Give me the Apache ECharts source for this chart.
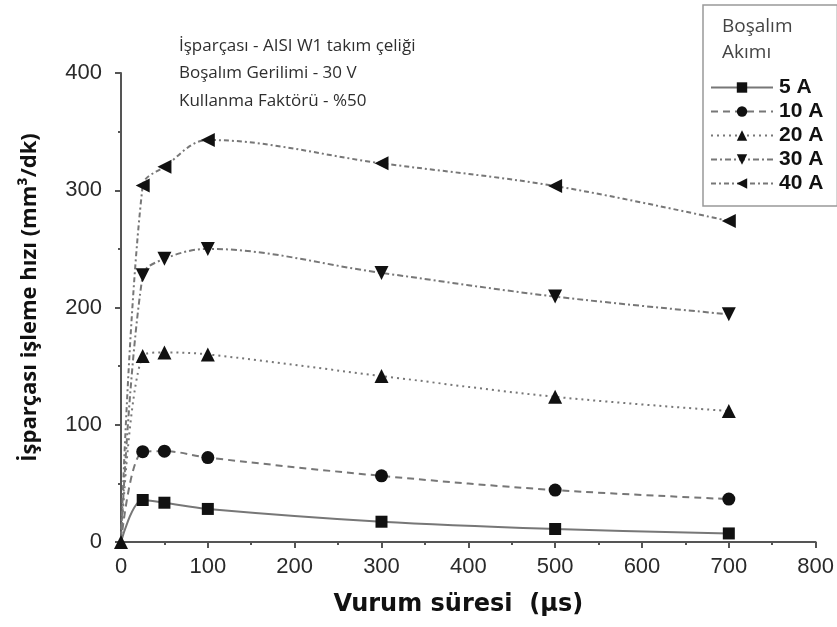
<!DOCTYPE html>
<html><head><meta charset="utf-8">
<script src="https://cdn.jsdelivr.net/npm/echarts@6/dist/echarts.min.js"></script>
<style>html,body{margin:0;padding:0;background:#fff}#c{width:837px;height:627px}</style>
</head><body><div id="c"></div>
<script>
const pulseTimes = [0, 25, 50, 100, 300, 500, 700];
const seriesNames = ['5 A', '10 A', '20 A', '30 A', '40 A'];
const s5A = [0, 35.8, 33.5, 28.2, 17.3, 11.1, 7.3];
const s10A = [0, 77, 77.5, 72, 56.4, 44.3, 36.6];
const s20A = [0, 158.6, 161.7, 160, 141.6, 123.8, 111.7];
const s30A = [0, 227.4, 241.5, 250, 229.5, 209.3, 194.2];
const s40A = [0, 304, 320, 342.9, 323, 303.6, 273.8];
const xTicks = [0, 100, 200, 300, 400, 500, 600, 700, 800];
const yTicks = [0, 100, 200, 300, 400];
const notes = ['İşparçası - AISI W1 takım çeliği', 'Boşalım Gerilimi - 30 V', 'Kullanma Faktörü - %50'];

const values = [s5A, s10A, s20A, s30A, s40A];
const symbols = ['rect', 'circle', 'triangle', 'triangle', 'triangle'];
const rotates = [0, 0, 0, 180, 90];
const sizes = [12, 13, 14, 14, 14];
const dashes = ['solid', [7, 5], [2, 4], [6, 3, 2, 3], [5, 3, 2, 3]];

const chart = echarts.init(document.getElementById('c'));
const axisCol = '#555';
chart.setOption({
  animation: false,
  backgroundColor: '#fff',
  grid: { left: 121, right: 21, top: 73, bottom: 85 },
  xAxis: {
    type: 'value', min: 0, max: 800, interval: 100,
    axisLine: { show: true, lineStyle: { color: axisCol, width: 2 } },
    axisTick: { show: true, length: 6, lineStyle: { color: axisCol, width: 2 } },
    minorTick: { show: true, splitNumber: 2, length: 3, lineStyle: { color: axisCol, width: 2 } },
    splitLine: { show: false },
    axisLabel: { color: '#2a2a2a', fontSize: 22, fontFamily: 'Liberation Sans, Arial', margin: 14,
      formatter: v => xTicks.includes(v) ? String(v) : '' },
    name: 'Vurum süresi  (µs)', nameLocation: 'middle', nameGap: 51,
    nameTextStyle: { color: '#111', fontSize: 24, fontWeight: 'bold', fontFamily: 'DejaVu Sans', padding: [0, 20, 0, 0] }
  },
  yAxis: {
    type: 'value', min: 0, max: 400, interval: 100,
    axisLine: { show: true, lineStyle: { color: axisCol, width: 2 } },
    axisTick: { show: true, length: 6, lineStyle: { color: axisCol, width: 2 } },
    minorTick: { show: true, splitNumber: 2, length: 3, lineStyle: { color: axisCol, width: 2 } },
    splitLine: { show: false },
    axisLabel: { color: '#2a2a2a', fontSize: 22, fontFamily: 'Liberation Sans, Arial', margin: 19,
      formatter: v => yTicks.includes(v) ? String(v) : '' },
    name: 'İşparçası işleme hızı (mm³/dk)', nameLocation: 'middle', nameGap: 80,
    nameTextStyle: { color: '#111', fontSize: 22, fontWeight: 'bold', fontFamily: 'Open Sans', padding: [0, 0, 0, 20] }
  },
  legend: {
    orient: 'vertical', left: 703, top: 5, width: 134,
    padding: [72, 14, 12, 7], itemGap: 3, itemWidth: 62, itemHeight: 13,
    borderColor: '#999', borderWidth: 1.5,
    textStyle: { color: '#111', fontSize: 21, lineHeight: 21, fontWeight: 'bold', fontFamily: 'Liberation Sans, Arial', padding: [0, 0, 0, 1] },
    data: seriesNames
  },
  graphic: [
    { type: 'text', left: 722, top: 14, style: { text: 'Boşalım\nAkımı', fill: '#444', font: '19px "Open Sans"', lineHeight: 26 } },
    { type: 'text', left: 179, top: 32, style: { text: notes.join('\n'), fill: '#2e2e2e', font: '17px "Open Sans"', lineHeight: 27.6 } }
  ],
  series: seriesNames.map((n, i) => ({
    name: n, type: 'line', smooth: 0.35,
    data: pulseTimes.map((t, j) => (j === 0 && i !== 2) ? { value: [t, values[i][j]], symbol: 'none' } : [t, values[i][j]]),
    symbol: symbols[i], symbolSize: sizes[i], symbolRotate: rotates[i],
    showAllSymbol: true,
    itemStyle: { color: '#111' },
    lineStyle: { color: '#777', width: 2, type: dashes[i] },
    z: 2
  }))
});
</script></body></html>
